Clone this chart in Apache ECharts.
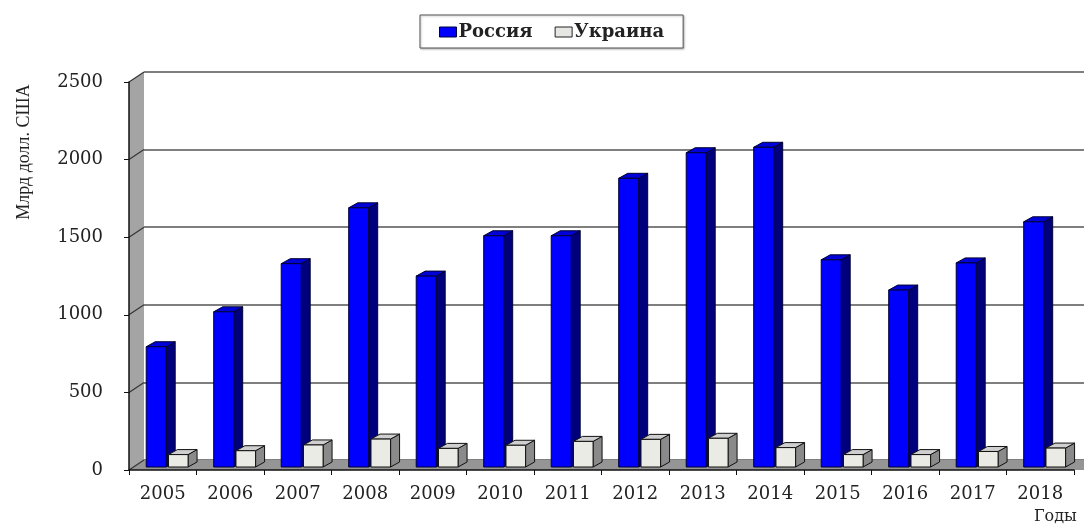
<!DOCTYPE html>
<html>
<head>
<meta charset="utf-8">
<script src="https://cdn.jsdelivr.net/npm/echarts@6/dist/echarts.min.js"></script>
<style>
  html, body { margin: 0; padding: 0; background: #ffffff; }
  #chart { width: 1084px; height: 529px; }
</style>
</head>
<body>
<div id="chart"></div>
<script>
// Годы и значения (млрд долл. США)
const years = ['2005', '2006', '2007', '2008', '2009', '2010', '2011',
               '2012', '2013', '2014', '2015', '2016', '2017', '2018'];
const russia = [775, 1000, 1310, 1670, 1230, 1490, 1490, 1860, 2025, 2060, 1335, 1140, 1315, 1580];
const ukraine = [80, 105, 142, 180, 120, 140, 165, 178, 185, 125, 80, 80, 100, 122];
const yTicks = [0, 500, 1000, 1500, 2000, 2500];
const seriesNames = ['Россия', 'Украина'];

// Pseudo-3D geometry: depth of the walls and of the columns
const WALL_DX = 15, WALL_DY = -10;
const BAR_DX = 9, BAR_DY = -5;
const BAR_SHIFT_X = 0, BAR_SHIFT_Y = -3;
const FONT = '"DejaVu Serif", "Liberation Serif", serif';

const chart = echarts.init(document.getElementById('chart'));

// Walls and floor of the 3D box, drawn once from the grid's coordinate system
function renderWalls(params, api) {
  const cs = params.coordSys;
  const x0 = cs.x, yTop = cs.y, yBot = cs.y + cs.height;
  const xr = cs.x + cs.width + 60;
  const children = [];
  // left wall
  children.push({
    type: 'polygon',
    shape: { points: [[x0, yTop], [x0 + WALL_DX, yTop + WALL_DY],
                      [x0 + WALL_DX, yBot + WALL_DY], [x0, yBot]] },
    style: { fill: '#a4a4a4', stroke: null }
  });
  // floor
  children.push({
    type: 'polygon',
    shape: { points: [[x0, yBot], [x0 + WALL_DX, yBot + WALL_DY],
                      [xr, yBot + WALL_DY], [xr, yBot]] },
    style: { fill: '#959595', stroke: null }
  });
  // connectors from front ticks to back grid lines
  yTicks.forEach(function (t) {
    const y = api.coord([0, t])[1];
    children.push({
      type: 'line',
      shape: { x1: x0, y1: y, x2: x0 + WALL_DX, y2: y + WALL_DY },
      style: { stroke: '#333333', lineWidth: 1.2 }
    });
  });
  return { type: 'group', children: children };
}

// One column with front, side and top faces
function makeColumn(offsetFrac, widthFrac, colors) {
  return function (params, api) {
    const i = api.value(0), v = api.value(1);
    const base = api.coord([i, 0]);
    const top = api.coord([i, v]);
    const bw = api.size([1, 0])[0];
    const x = base[0] - bw / 2 + offsetFrac * bw + BAR_SHIFT_X;
    const w = widthFrac * bw;
    const yb = base[1] + BAR_SHIFT_Y;
    const yt = top[1] + BAR_SHIFT_Y;
    return {
      type: 'group',
      children: [
        {
          type: 'polygon',
          shape: { points: [[x + w, yt], [x + w + BAR_DX, yt + BAR_DY],
                            [x + w + BAR_DX, yb + BAR_DY], [x + w, yb]] },
          style: { fill: colors.side, stroke: colors.stroke, lineWidth: 1 }
        },
        {
          type: 'polygon',
          shape: { points: [[x, yt], [x + BAR_DX, yt + BAR_DY],
                            [x + w + BAR_DX, yt + BAR_DY], [x + w, yt]] },
          style: { fill: colors.top, stroke: colors.stroke, lineWidth: 1 }
        },
        {
          type: 'rect',
          shape: { x: x, y: yt, width: w, height: yb - yt },
          style: { fill: colors.front, stroke: colors.stroke, lineWidth: 1 }
        }
      ]
    };
  };
}

const axisFont = { fontFamily: FONT, fontSize: 18, color: '#222222' };

const option = {
  animation: false,
  backgroundColor: '#ffffff',
  grid: [
    { left: 129, top: 82, width: 945, height: 388, containLabel: false },
    { left: 129 + WALL_DX, top: 82 + WALL_DY, width: 945, height: 388, containLabel: false }
  ],
  legend: {
    data: [
      { name: seriesNames[0], icon: 'rect',
        itemStyle: { color: '#0000ff', borderColor: '#000040', borderWidth: 1 } },
      { name: seriesNames[1], icon: 'rect',
        itemStyle: { color: '#e6e6e2', borderColor: '#222222', borderWidth: 1 } }
    ],
    left: 420, top: 15,
    padding: [8, 19, 7, 19],
    itemWidth: 17, itemHeight: 10, itemGap: 22,
    borderColor: '#555555', borderWidth: 1,
    shadowColor: 'rgba(0,0,0,0.25)', shadowOffsetX: 1, shadowOffsetY: 1, shadowBlur: 2,
    backgroundColor: '#ffffff',
    selectedMode: false,
    textStyle: { fontFamily: FONT, fontSize: 18, fontWeight: 'bold', color: '#222222',
                 padding: [0, 0, 0, -3] }
  },
  xAxis: [
    {
      gridIndex: 0, type: 'category', data: years,
      boundaryGap: true,
      axisLine: { show: true, lineStyle: { color: '#111111', width: 1.5 } },
      axisTick: { show: true, length: 5, lineStyle: { color: '#111111' } },
      axisLabel: Object.assign({ margin: 15 }, axisFont),
      splitLine: { show: false }
    },
    {
      gridIndex: 1, type: 'category', data: years, show: false
    }
  ],
  yAxis: [
    {
      gridIndex: 0, type: 'value', min: 0, max: 2500, interval: 500,
      axisLine: { show: true, lineStyle: { color: '#111111', width: 1.5 } },
      axisTick: { show: true, length: 5, lineStyle: { color: '#111111' } },
      axisLabel: Object.assign({ margin: 26, formatter: function (v) { return String(v); } }, axisFont),
      splitLine: { show: false }
    },
    {
      gridIndex: 1, type: 'value', min: 0, max: 2500, interval: 500,
      axisLine: { show: false }, axisTick: { show: false }, axisLabel: { show: false },
      splitLine: { show: true, lineStyle: { color: '#555555', width: 1.6 } }
    }
  ],
  series: [
    {
      type: 'custom', name: 'walls', xAxisIndex: 0, yAxisIndex: 0,
      renderItem: renderWalls, data: [[0, 0]], z: 0, silent: true
    },
    {
      type: 'custom', name: seriesNames[0], xAxisIndex: 0, yAxisIndex: 0, z: 3,
      itemStyle: { color: '#0000ff' },
      renderItem: makeColumn(0.255, 0.296,
        { front: '#0000ff', side: '#00007c', top: '#0000d8', stroke: '#000030' }),
      data: russia.map(function (v, i) { return [i, v]; })
    },
    {
      type: 'custom', name: seriesNames[1], xAxisIndex: 0, yAxisIndex: 0, z: 4,
      itemStyle: { color: '#e6e6e2' },
      renderItem: makeColumn(0.585, 0.29,
        { front: '#ebebe6', side: '#8a8a8a', top: '#cfcfcf', stroke: '#111111' }),
      data: ukraine.map(function (v, i) { return [i, v]; })
    }
  ],
  graphic: [
    {
      type: 'text', x: 24, y: 152, rotation: Math.PI / 2,
      style: { text: 'Млрд долл. США', fontFamily: '"Liberation Serif", serif',
               fontSize: 18, fill: '#222222', align: 'center', verticalAlign: 'middle' }
    },
    {
      type: 'text', x: 1034, y: 517,
      style: { text: 'Годы', fontFamily: FONT, fontSize: 16, fill: '#222222',
               align: 'left', verticalAlign: 'middle' }
    }
  ]
};

chart.setOption(option);
</script>
</body>
</html>
